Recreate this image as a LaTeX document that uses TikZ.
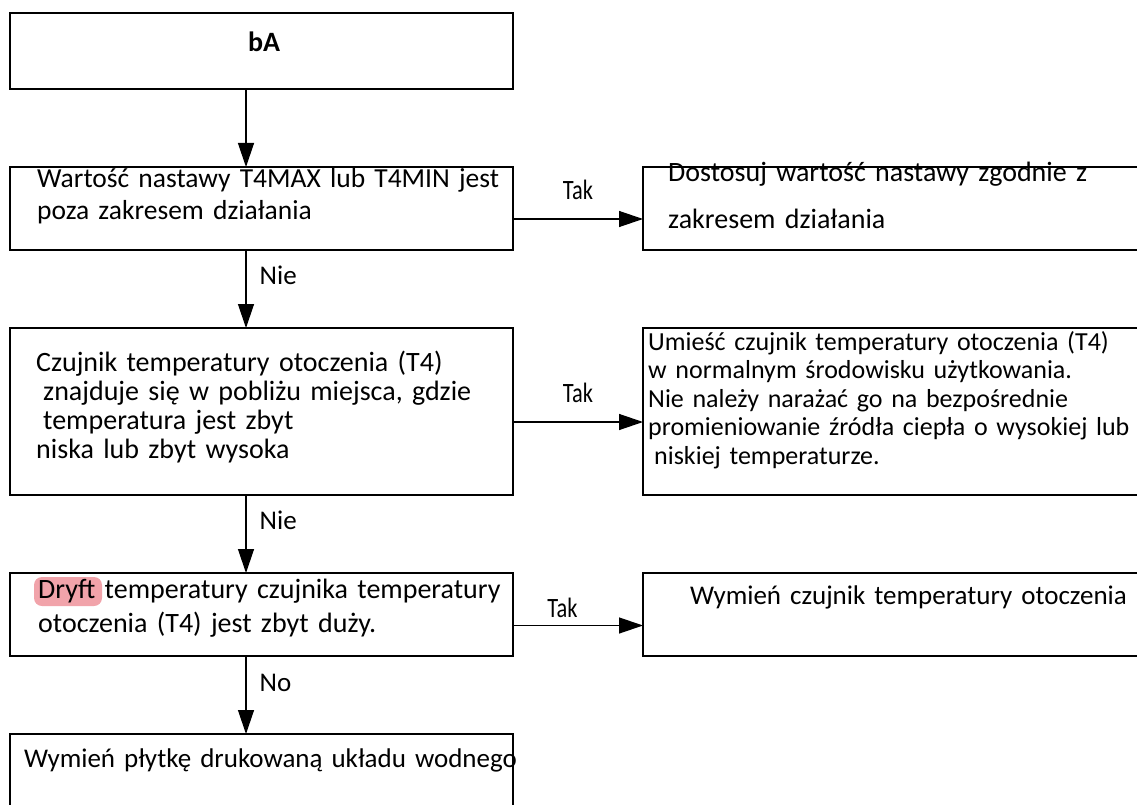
\documentclass[tikz,border=0pt]{standalone}
\usepackage{fontspec}
\setmainfont{Carlito}[WordSpace=0.8]
\newfontfamily\takfont{Carlito}[FakeStretch=0.8]
\usetikzlibrary{arrows.meta,positioning}
\definecolor{hlpink}{RGB}{241,163,170}

\begin{document}
\begin{tikzpicture}[x=1pt,y=1pt,
  box/.style={draw, line width=2pt, inner sep=0pt, outer sep=0pt,
    minimum width=503pt, minimum height=83pt},
  sidebox/.style={box, minimum width=520pt},
  txt/.style={anchor=base west, inner sep=0pt, text width=640pt, align=left},
  arr/.style={line width=1.3pt, -{Triangle[length=24pt,width=16pt]}},
  yeslbl/.style={font=\takfont\fontsize{28}{30}\selectfont, inner sep=0pt},
  nolbl/.style={font=\fontsize{27}{30}\selectfont, inner sep=0pt, anchor=west},
  node distance=78pt]
\useasboundingbox (0,0) rectangle (1137,-805);

% main column
\node[box, minimum height=76pt] (b1) at (261.5,-51) {};
\node[box, below=of b1] (b2) {};
\node[box, minimum height=167pt, below=of b2] (b3) {};
\node[box, below=of b3] (b4) {};
\node[box, minimum height=81pt, below=of b4] (b5) {};

% right column
\node[sidebox, right=130pt of b2] (s1) {};
\node[sidebox, minimum height=167pt, right=130pt of b3] (s2) {};
\node[sidebox, right=130pt of b4] (s3) {};

\fill[hlpink, rounded corners=8pt] ([shift={(24,-4)}]b4.north west)
  rectangle ([shift={(92,-33)}]b4.north west);

% texts
\node[font=\bfseries\fontsize{28}{32}\selectfont, inner sep=0pt, anchor=base]
  (t1) at ([shift={(2.5,-1)}]b1.center) {bA};
\node[txt, font=\fontsize{27.5}{32}\selectfont] (t2) at ([shift={(27,-21)}]b2.north west)
  {Wartość nastawy T4MAX lub T4MIN jest\\poza zakresem działania};
\node[txt, font=\fontsize{28}{29}\selectfont] (t3) at ([shift={(26,-43)}]b3.north west)
  {Czujnik temperatury otoczenia (T4)\\
   \hspace*{7pt}znajduje się w pobliżu miejsca, gdzie\\
   \hspace*{7pt}temperatura jest zbyt\\
   niska lub zbyt wysoka};
\node[txt, font=\fontsize{28}{34}\selectfont] (t4) at ([shift={(28,-25)}]b4.north west)
  {Dryft temperatury czujnika temperatury\\otoczenia (T4) jest zbyt duży.};
\node[txt, font=\fontsize{27}{32}\selectfont] (t5) at ([shift={(14,-33)}]b5.north west)
  {Wymień płytkę drukowaną układu wodnego};
\node[txt, font=\fontsize{28}{47}\selectfont] (u1) at ([shift={(25,-15)}]s1.north west)
  {Dostosuj wartość nastawy zgodnie z\\zakresem działania};
\node[txt, font=\fontsize{26}{28.5}\selectfont] (u2) at ([shift={(5,-22)}]s2.north west)
  {Umieść czujnik temperatury otoczenia (T4)\\
   w normalnym środowisku użytkowania.\\
   Nie należy narażać go na bezpośrednie\\
   promieniowanie źródła ciepła o wysokiej lub\\
   \hspace*{6pt}niskiej temperaturze.};
\node[txt, font=\fontsize{27}{32}\selectfont] (u3) at ([shift={(47,-31)}]s3.north west)
  {Wymień czujnik temperatury otoczenia};

% connectors
\draw[arr] ([xshift=-15.5pt]b1.south) -- ([xshift=-15.5pt]b2.north);
\draw[arr] ([xshift=-15.5pt]b2.south) -- node[nolbl, pos=0.32, xshift=13pt] {Nie} ([xshift=-15.5pt]b3.north);
\draw[arr] ([xshift=-15.5pt]b3.south) -- node[nolbl, pos=0.32, xshift=13pt] {Nie} ([xshift=-15.5pt]b4.north);
\draw[arr] ([xshift=-15.5pt]b4.south) -- node[nolbl, pos=0.35, xshift=13pt] {No} ([xshift=-15.5pt]b5.north);

\draw[arr] ([yshift=-10.5pt]b2.east) -- node[yeslbl, above=19pt] {Tak} ([yshift=-10.5pt]s1.west);
\draw[arr] ([yshift=-10.5pt]b3.east) -- node[yeslbl, above=19pt] {Tak} ([yshift=-10.5pt]s2.west);
\draw[arr] ([yshift=-11pt]b4.east) -- node[yeslbl, pos=0.38, above=7pt] {Tak} ([yshift=-11pt]s3.west);
\end{tikzpicture}
\end{document}
